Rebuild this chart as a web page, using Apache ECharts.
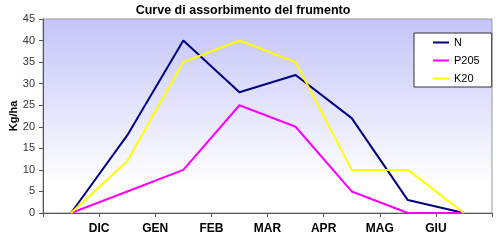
<!DOCTYPE html>
<html>
<head>
<meta charset="utf-8">
<script src="https://cdn.jsdelivr.net/npm/echarts@6/dist/echarts.min.js"></script>
<style>html,body{margin:0;padding:0;background:#fff}#c{width:500px;height:244px}</style>
</head>
<body>
<div id="c"></div>
<script>
const monthLabels = ['', 'DIC', 'GEN', 'FEB', 'MAR', 'APR', 'MAG', 'GIU', ''];
const seriesNames = ['N', 'P205', 'K20'];
const valuesN = [0, 18, 40, 28, 32, 22, 3, 0];
const valuesP = [0, 5, 10, 25, 20, 5, 0, 0];
const valuesK = [0, 12, 35, 40, 35, 10, 10, 0];
const colors = ['#000080', '#ff00ff', '#ffff00'];

const toPoints = arr => arr.map((v, i) => [i + 0.5, v]);
const chart = echarts.init(document.getElementById('c'));
const font = 'Liberation Sans, Arial, sans-serif';
chart.setOption({
  animation: false,
  title: {
    text: 'Curve di assorbimento del frumento',
    left: 240, top: 3, textAlign: 'center',
    textStyle: { fontFamily: font, fontSize: 12.5, fontWeight: 'bold', color: '#000' },
    backgroundColor: '#fff', padding: [1, 3]
  },
  legend: {
    orient: 'vertical', left: 414, top: 33,
    data: seriesNames, icon: 'rect', itemWidth: 16, itemHeight: 2, itemGap: 7,
    backgroundColor: '#fff', borderColor: '#333', borderWidth: 1,
    padding: [4, 12, 3, 19],
    textStyle: { fontFamily: font, fontSize: 11, color: '#000' }
  },
  grid: {
    left: 43, right: 8, top: 19, bottom: 31, show: true,
    containLabel: false, outerBoundsMode: 'none',
    borderColor: '#999', borderWidth: 1,
    backgroundColor: new echarts.graphic.LinearGradient(0, 0, 0, 1, [
      { offset: 0, color: '#c4c4f8' }, { offset: 0.85, color: '#ffffff' }, { offset: 1, color: '#ffffff' }
    ])
  },
  xAxis: {
    type: 'value', min: 0, max: 8, interval: 1,
    splitLine: { show: false },
    axisLine: { lineStyle: { color: '#555', width: 1 } },
    axisTick: { show: true, length: 4, lineStyle: { color: '#555' } },
    axisLabel: { margin: 10, formatter: v => monthLabels[v] || '', fontFamily: font, fontSize: 12, fontWeight: 'bold', color: '#000' }
  },
  yAxis: {
    type: 'value', min: 0, max: 45, interval: 5,
    name: 'Kg/ha', nameLocation: 'middle', nameGap: 24, nameMoveOverlap: false,
    nameTextStyle: { fontFamily: font, fontSize: 11, fontWeight: 'bold', color: '#000' },
    splitLine: { show: false },
    axisLine: { show: true, lineStyle: { color: '#555', width: 1 } },
    axisTick: { show: true, length: 4, lineStyle: { color: '#555' } },
    axisLabel: { margin: 8, fontFamily: font, fontSize: 11, color: '#333' }
  },
  series: [valuesN, valuesP, valuesK].map((vals, i) => ({
    name: seriesNames[i], type: 'line', data: toPoints(vals),
    symbol: 'none', lineStyle: { color: colors[i], width: 2 }, itemStyle: { color: colors[i] }
  }))
});
</script>
</body>
</html>
